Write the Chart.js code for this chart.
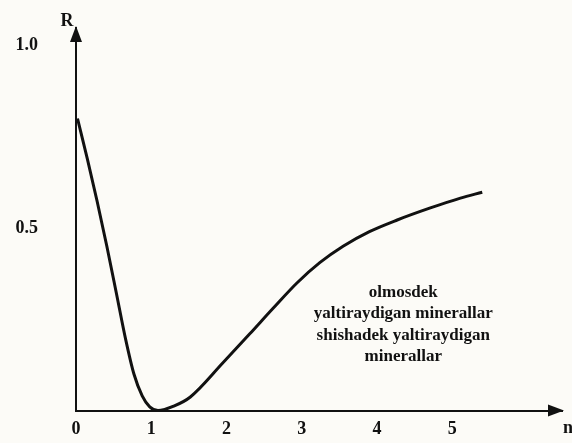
<!DOCTYPE html>
<html>
<head>
<meta charset="utf-8">
<script src="https://cdn.jsdelivr.net/npm/chart.js@4"></script>
<style>
  body { margin: 0; background: #fcfbf7; }
  canvas { display: block; }
</style>
</head>
<body>
<canvas id="grafik" width="572" height="443"></canvas>
<script>
// R(n) egri chizig'i - qiymatlar rasmdan o'qilgan
const nQiymat = [0.02, 0.15, 0.28, 0.41, 0.54, 0.66, 0.77, 0.88, 0.98, 1.09,
                 1.30, 1.52, 1.95, 2.31, 2.62, 2.94, 3.24, 3.55, 3.90, 4.27, 4.71, 5.11, 5.40];
const rQiymat = [0.80, 0.69, 0.574, 0.45, 0.318, 0.195, 0.10, 0.04, 0.01, 0.0,
                 0.012, 0.037, 0.13, 0.21, 0.28, 0.35, 0.405, 0.45, 0.49, 0.522, 0.555, 0.582, 0.598];

const xTicks = [0, 1, 2, 3, 4, 5];
const yTicks = [0.5, 1.0];
const X_MAX = 6.46;
const Y_MAX = 1.048;

const izohMatn = ['olmosdek', 'yaltiraydigan minerallar', 'shishadek yaltiraydigan', 'minerallar'];
const izohN = 4.35, izohR = 0.324;

const SHRIFT = 'bold 18px "Liberation Serif", serif';

// o'qlar uchida strelkalar va yozuvlar
const strelkaPlugin = {
    id: 'strelka',
    afterDraw(chart) {
        const ctx = chart.ctx;
        const a = chart.chartArea;
        ctx.save();
        ctx.fillStyle = '#111';
        // y o'qi strelkasi
        ctx.beginPath();
        ctx.moveTo(a.left, a.top - 2);
        ctx.lineTo(a.left - 6, a.top + 14);
        ctx.lineTo(a.left + 6, a.top + 14);
        ctx.closePath();
        ctx.fill();
        // x o'qi strelkasi
        ctx.beginPath();
        ctx.moveTo(a.right + 2, a.bottom);
        ctx.lineTo(a.right - 14, a.bottom - 6);
        ctx.lineTo(a.right - 14, a.bottom + 6);
        ctx.closePath();
        ctx.fill();

        ctx.font = SHRIFT;
        ctx.textAlign = 'center';
        ctx.textBaseline = 'middle';
        ctx.fillText('R', a.left - 9, a.top - 7);
        ctx.textAlign = 'left';
        ctx.fillText('n', a.right + 1, a.bottom + 18);

        // izoh matni
        const xs = chart.scales.x, ys = chart.scales.y;
        const cx = xs.getPixelForValue(izohN);
        const cy = ys.getPixelForValue(izohR);
        ctx.font = 'bold 17px "Liberation Serif", serif';
        ctx.textAlign = 'center';
        izohMatn.forEach((t, i) => ctx.fillText(t, cx, cy + i * 21.5));
        ctx.restore();
    }
};

new Chart(document.getElementById('grafik'), {
    type: 'line',
    data: {
        datasets: [{
            data: nQiymat.map((n, i) => ({ x: n, y: rQiymat[i] })),
            borderColor: '#111',
            borderWidth: 3,
            pointRadius: 0,
            fill: false,
            cubicInterpolationMode: 'monotone'
        }]
    },
    options: {
        responsive: false,
        animation: false,
        devicePixelRatio: 1,
        layout: { padding: { top: 28, right: 10, left: 0, bottom: 0 } },
        plugins: { legend: { display: false }, tooltip: { enabled: false } },
        scales: {
            x: {
                type: 'linear',
                min: 0,
                max: X_MAX,
                afterBuildTicks: s => { s.ticks = xTicks.map(v => ({ value: v })); },
                afterFit: s => { s.height = 32.5; s.paddingLeft = 0; s.paddingRight = 0; },
                grid: { display: false, drawTicks: false },
                border: { display: true, color: '#111', width: 2 },
                ticks: { color: '#111', font: { family: '"Liberation Serif", serif', size: 18, weight: 'bold' }, padding: 8, maxRotation: 0 }
            },
            y: {
                type: 'linear',
                min: 0,
                max: Y_MAX,
                afterBuildTicks: s => { s.ticks = yTicks.map(v => ({ value: v })); },
                afterFit: s => { s.width = 76; s.paddingTop = 0; s.paddingBottom = 0; },
                grid: { display: false, drawTicks: false },
                border: { display: true, color: '#111', width: 2 },
                ticks: {
                    color: '#111',
                    font: { family: '"Liberation Serif", serif', size: 18, weight: 'bold' },
                    padding: 38,
                    callback: v => v.toFixed(1)
                }
            }
        }
    },
    plugins: [strelkaPlugin]
});
</script>
</body>
</html>
